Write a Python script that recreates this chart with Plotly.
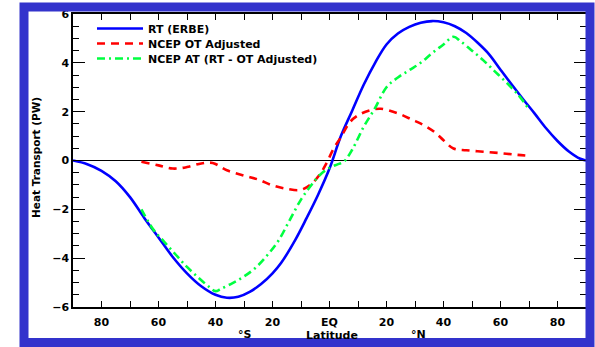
import plotly.graph_objects as go

# ---- data ----
rt_lat = [-90, -85, -80, -75, -70, -65, -60, -55, -50, -45, -40, -36, -32, -28, -24, -20, -17, -12, -8, -4,
          0, 4, 8, 12, 16, 20, 24, 28, 32, 36, 40, 44, 48, 52, 56, 60, 64, 68, 72, 76, 80, 84, 88, 90]
rt_val = [0, -0.15, -0.42, -0.85, -1.5, -2.35, -3.15, -3.95, -4.62, -5.15, -5.5, -5.62, -5.58, -5.38, -5.06,
          -4.62, -4.2, -3.25, -2.35, -1.4, -0.33, 1.0, 2.05, 3.1, 4.0, 4.75, 5.2, 5.47, 5.64, 5.71, 5.66, 5.5,
          5.22, 4.82, 4.35, 3.72, 3.1, 2.5, 1.92, 1.32, 0.8, 0.37, 0.07, 0]

ot_lat = [-66, -60, -55, -50, -45, -41, -36, -30, -25, -20, -15, -10, -6, -3, -1, 1.5, 4, 7, 10, 14, 18,
          24, 29, 33, 37, 40, 43.5, 48, 54, 60, 66, 70]
ot_val = [-0.05, -0.2, -0.33, -0.27, -0.12, -0.1, -0.4, -0.62, -0.78, -1.02, -1.16, -1.2, -0.92, -0.5, -0.1,
          0.5, 0.95, 1.55, 1.85, 2.05, 2.12, 1.93, 1.67, 1.45, 1.15, 0.83, 0.49, 0.42, 0.36, 0.3, 0.23, 0.19]

at_lat = [-66, -62, -58, -54, -50, -46, -42, -40, -38, -34, -30, -26, -22, -18, -14, -10, -6, -3, 0, 3, 5,
          8, 12, 16, 20, 24, 28, 32, 36, 40, 43.5, 46, 50, 54, 58, 62, 66, 70]
at_val = [-2.0, -2.8, -3.33, -3.85, -4.36, -4.8, -5.2, -5.35, -5.25, -5.02, -4.75, -4.4, -3.9, -3.3, -2.45,
          -1.6, -0.95, -0.55, -0.3, -0.15, -0.05, 0.45, 1.38, 2.15, 3.0, 3.4, 3.7, 4.0, 4.4, 4.75, 5.07,
          4.88, 4.5, 4.1, 3.65, 3.2, 2.72, 2.1]

x_tickvals = [-80, -60, -40, -20, 0, 20, 40, 60, 80]
x_ticktext = ["80", "60", "40", "20", "EQ", "20", "40", "60", "80"]
y_tickvals = [-6, -4, -2, 0, 2, 4, 6]

names = ["RT (ERBE)", "NCEP OT Adjusted", "NCEP AT (RT - OT Adjusted)"]

W, H = 595, 347
ML, MR, MT, MB = 73, 9, 14, 40
PW, PH = W - ML - MR, H - MT - MB


def px_x(p):
    return (p - ML) / PW


def px_y(p):
    return (H - MB - p) / PH


FONT = dict(family="DejaVu Sans, Verdana, sans-serif", size=11, color="black", weight="bold")
TFONT = dict(family="DejaVu Sans, Verdana, sans-serif", size=10.5, color="black", weight="bold")

fig = go.Figure()
fig.add_trace(go.Scatter(x=rt_lat, y=rt_val, mode="lines", name=names[0], legend="legend",
                         line=dict(color="#0000FF", width=2.6, shape="spline")))
fig.add_trace(go.Scatter(x=ot_lat, y=ot_val, mode="lines", name=names[1], legend="legend2",
                         line=dict(color="#FF0000", width=2.6, dash="8px,6px", shape="spline")))
fig.add_trace(go.Scatter(x=at_lat, y=at_val, mode="lines", name=names[2], legend="legend3",
                         line=dict(color="#00FF40", width=2.6, dash="8px,4px,2px,4px", shape="spline")))


def leg(row_y):
    return dict(x=px_x(92), y=px_y(row_y - 14.5), xanchor="left", yanchor="top",
                bgcolor="rgba(0,0,0,0)", borderwidth=0, font=FONT, itemwidth=46)


fig.update_layout(
    width=W, height=H,
    margin=dict(l=ML, r=MR, t=MT, b=MB, autoexpand=False),
    paper_bgcolor="white", plot_bgcolor="white",
    font=FONT,
    showlegend=True,
    legend=leg(28.5), legend2=leg(43.5), legend3=leg(58.5),
    xaxis=dict(range=[-90, 90], tickvals=x_tickvals, ticktext=x_ticktext,
               ticks="inside", ticklen=6, tickwidth=1.3, tickcolor="black",
               showline=True, linecolor="black", linewidth=1.5, mirror="allticks",
               showgrid=False, zeroline=False, ticklabelstandoff=4,
               minor=dict(dtick=10, tick0=0, ticks="inside", ticklen=6, tickwidth=1.3,
                          tickcolor="black", showgrid=False),
               tickfont=FONT),
    yaxis=dict(range=[-6, 6], tickvals=y_tickvals,
               ticks="inside", ticklen=12, tickwidth=1.3, tickcolor="black",
               showline=True, linecolor="black", linewidth=1.5, mirror="allticks",
               showgrid=False, zeroline=True, zerolinecolor="black", zerolinewidth=1,
               minor=dict(dtick=0.5, tick0=0, ticks="inside", ticklen=6, tickwidth=1.3,
                          tickcolor="black", showgrid=False),
               tickfont=FONT),
    annotations=[
        dict(text="Heat Transport (PW)", xref="paper", yref="paper", x=px_x(36), y=px_y(158),
             textangle=-90, showarrow=False, font=TFONT, xanchor="center", yanchor="middle"),
        dict(text="°S", xref="paper", yref="paper", x=px_x(245), y=px_y(334),
             showarrow=False, font=FONT, xanchor="center", yanchor="middle"),
        dict(text="Latitude", xref="paper", yref="paper", x=px_x(332), y=px_y(335),
             showarrow=False, font=FONT, xanchor="center", yanchor="middle"),
        dict(text="°N", xref="paper", yref="paper", x=px_x(418), y=px_y(334),
             showarrow=False, font=FONT, xanchor="center", yanchor="middle"),
    ],
    shapes=[
        dict(type="rect", xref="paper", yref="paper", layer="above",
             x0=px_x(24), x1=px_x(590), y0=px_y(7), y1=px_y(342.5),
             line=dict(color="#3333CC", width=9), fillcolor="rgba(0,0,0,0)"),
    ],
)

fig.write_html("out.html")
